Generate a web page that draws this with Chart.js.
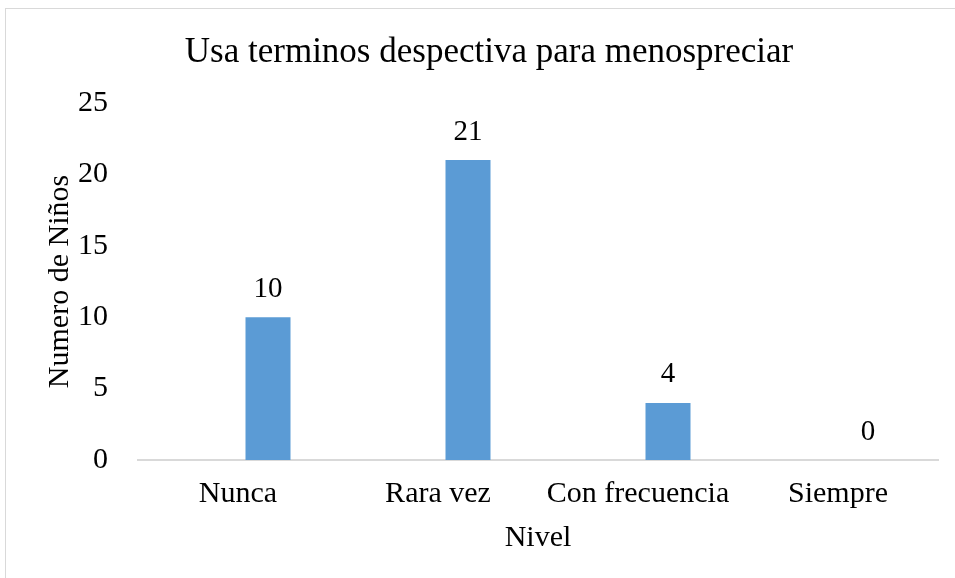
<!DOCTYPE html>
<html lang="es">
<head>
<meta charset="utf-8">
<title>Usa terminos despectiva para menospreciar</title>
<script src="https://cdn.jsdelivr.net/npm/chart.js@4/dist/chart.umd.min.js"></script>
<style>
  html, body { margin: 0; padding: 0; background: #fff; overflow: hidden; }
  #marco {
    position: absolute; left: 5px; top: 8px; width: 980px; height: 600px;
    border: 1px solid #d9d9d9; box-sizing: border-box;
  }
  #contenedor { position: absolute; left: 0; top: 0; width: 955px; height: 578px; }
</style>
</head>
<body>
<div id="marco"></div>
<div id="contenedor"><canvas id="grafico"></canvas></div>
<script>
const niveles = ['Nunca', 'Rara vez', 'Con frecuencia', 'Siempre'];
const numeroNinos = [10, 21, 4, 0];
const serieVacia = [null, null, null, null];
const ticksY = [0, 5, 10, 15, 20, 25];

const fuente = '"Liberation Serif", "Times New Roman", serif';

// etiquetas de valor encima de cada barra
const etiquetasValor = {
  id: 'etiquetasValor',
  afterDatasetsDraw(chart) {
    const ctx = chart.ctx;
    const meta = chart.getDatasetMeta(1);
    ctx.save();
    ctx.font = '29px ' + fuente;
    ctx.fillStyle = '#000';
    ctx.textAlign = 'center';
    ctx.textBaseline = 'middle';
    meta.data.forEach(function (barra, i) {
      ctx.fillText(String(numeroNinos[i]), barra.x, barra.y - 28);
    });
    ctx.restore();
  }
};

new Chart(document.getElementById('grafico'), {
  type: 'bar',
  data: {
    labels: niveles,
    datasets: [
      { label: '', data: serieVacia, backgroundColor: 'rgba(0,0,0,0)' },
      {
        label: 'Numero de Niños',
        data: numeroNinos,
        backgroundColor: '#5b9bd5'
      }
    ]
  },
  options: {
    responsive: true,
    maintainAspectRatio: false,
    animation: false,
    datasets: { bar: { categoryPercentage: 0.6, barPercentage: 0.75 } },
    layout: { padding: { left: 40, right: 17, top: 14, bottom: 22 } },
    plugins: {
      legend: { display: false },
      tooltip: { enabled: false },
      title: {
        display: true,
        text: 'Usa terminos despectiva para menospreciar',
        color: '#000',
        font: { family: fuente, size: 35, weight: 'normal' },
        padding: { top: 18, bottom: 29 }
      }
    },
    scales: {
      x: {
        afterFit(scale) { scale.height = 96; },
        grid: { display: false, drawTicks: false },
        border: { display: true, color: '#d9d9d9', width: 2 },
        ticks: { color: '#000', font: { family: fuente, size: 30 }, padding: 16 },
        title: {
          display: true, text: 'Nivel', color: '#000',
          font: { family: fuente, size: 30 }, padding: { top: 8, bottom: 0 }
        }
      },
      y: {
        min: 0,
        max: 25,
        afterBuildTicks(scale) { scale.ticks = ticksY.map(v => ({ value: v })); },
        afterFit(scale) { scale.width = 98; },
        grid: { display: false, drawTicks: false },
        border: { display: false },
        ticks: { color: '#000', font: { family: fuente, size: 30 }, padding: 30 },
        title: {
          display: true, text: 'Numero de Niños', color: '#000',
          font: { family: fuente, size: 30 }, padding: { top: 2, bottom: 0 }
        }
      }
    }
  },
  plugins: [etiquetasValor]
});
</script>
</body>
</html>
